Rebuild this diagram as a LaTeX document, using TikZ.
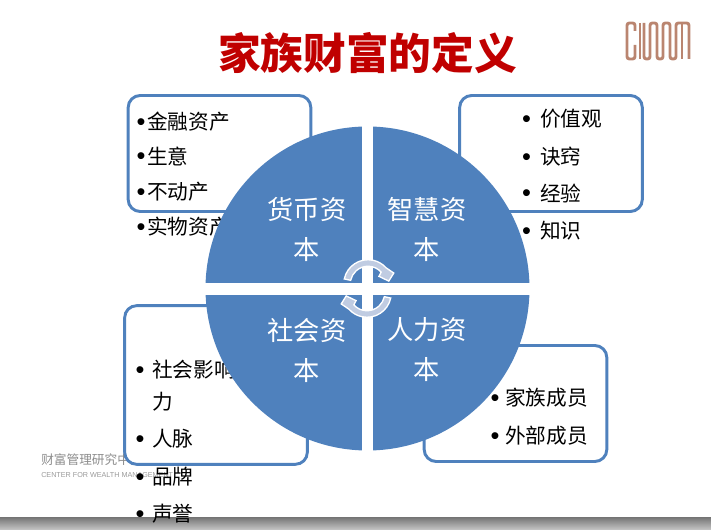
\documentclass[tikz,border=0pt]{standalone}
\usepackage{fontspec}
\setmainfont{Noto Sans CJK SC}
\newfontfamily\latinfont{Liberation Sans}
\usetikzlibrary{shadings}
\definecolor{wm_blue}{RGB}{79, 129, 189}
\definecolor{wm_red}{RGB}{192, 0, 0}
\definecolor{wm_brown}{RGB}{186, 133, 112}
\definecolor{wm_arrow}{RGB}{192, 204, 226}
\tikzstyle{box}=[rectangle,rounded corners=9pt,fill=white,draw=wm_blue,
  line width=2.2pt,minimum width=137pt,inner sep=0pt]
\tikzstyle{itm}=[anchor=west,inner sep=0pt,font=\fontsize{15.5}{18}\selectfont,
  label={[label distance=#1,inner sep=0pt,yshift=-2pt,font=\latinfont\fontsize{19}{18}\selectfont]left:•}]
\tikzstyle{cont}=[anchor=west,inner sep=0pt,font=\fontsize{15.5}{18}\selectfont]
\tikzstyle{quad}=[text=white,inner sep=0pt,font=\fontsize{19.7}{30}\selectfont,
  align=center]
\tikzstyle{swap}=[fill=wm_arrow,draw=white,line width=1pt,line join=miter]
\tikzstyle{logoline}=[wm_brown,line width=2.2pt,rounded corners=1.8pt]
\newcommand{\swappath}{(168:18.2pt) arc (168:42:18.2pt) -- (23:21pt) -- (8:15.75pt)
  -- (35:10pt) -- (42:13.3pt) arc (42:168:13.3pt) -- cycle}

\begin{document}
\begin{tikzpicture}[x=0.75pt,y=-0.75pt]
    \useasboundingbox (0,0) rectangle (711,530);
    % bar at the foot of the slide
    \shade[top color=black!52,bottom color=black!22] (0,518) rectangle (711,530);
    % logos
    \node [anchor=west,inner sep=0pt,text=black!45,font=\fontsize{9.5}{11}\selectfont] (cwmcn) at (41,460) {财富管理研究中心};
    \node [anchor=west,inner sep=0pt,text=black!40,font=\latinfont\fontsize{5.4}{6}\selectfont] (cwmen) at (41,475) {CENTER FOR WEALTH MANAGEMENT};
    \draw [logoline] (635,31) -- (635,23) -- (627,23) -- (627,59) -- (635,59) -- (635,45);
    \draw [logoline] (640,23) -- (640,59);
    \draw [logoline] (644,23) -- (644,59) -- (650,59) -- (650,23) -- (657,23) -- (657,59) -- (663,59)
      -- (663,23) -- (670,23) -- (670,59) -- (676,59) -- (676,23) -- (689,23) -- (689,59);
    \draw [logoline] (682,23) -- (682,59);
    % title
    \node [inner sep=0pt,text=wm_red,font=\fontsize{32}{38}\bfseries\selectfont] (title) at (367.5,53) {家族财富的定义};
    % boxes
    \node [box,minimum height=87pt] (money) at (219.5,153.5) {};
    \node [box,minimum height=87pt] (wisdom) at (551,153.5) {};
    \node [box,minimum height=119pt] (social) at (216,385) {};
    \node [box,minimum height=87pt] (human) at (515.5,403.5) {};
    % items
    \node [itm=1pt] (m1) at (147,122) {金融资产};
    \node [itm=1pt] (m2) at (147,156) {生意};
    \node [itm=1pt] (m3) at (147,192) {不动产};
    \node [itm=1pt] (m4) at (147,227) {实物资产};
    \node [itm=6.5pt] (w1) at (540,119) {价值观};
    \node [itm=6.5pt] (w2) at (540,157) {诀窍};
    \node [itm=6.5pt] (w3) at (540,193) {经验};
    \node [itm=6.5pt] (w4) at (540,231) {知识};
    \node [itm=5.5pt] (s1) at (152,370) {社会影响};
    \node [cont] (s1b) at (152,402) {力};
    \node [itm=5.5pt] (s2) at (152,439) {人脉};
    \node [itm=5.5pt] (s3) at (152,477) {品牌};
    \node [itm=5.5pt] (s4) at (152,514) {声誉};
    \node [itm=4pt] (h1) at (505,398) {家族成员};
    \node [itm=4pt] (h2) at (505,436) {外部成员};
    % the disc and its cross
    \fill [wm_blue] (367.5,288.5) circle [radius=121.5pt];
    \fill [white] (362,125) rectangle (373,452);
    \fill [white] (203,283) rectangle (532,295);
    \node [quad] (qmoney) at (307,229) {货币资\\本};
    \node [quad] (qwisdom) at (427,229) {智慧资\\本};
    \node [quad] (qsocial) at (307,350) {社会资\\本};
    \node [quad] (qhuman) at (427,350) {人力资\\本};
    % the two turning arrows
    \begin{scope}[shift={(368,284)}]
      \filldraw [swap] \swappath;
    \end{scope}
    \begin{scope}[shift={(367,293)},rotate=180]
      \filldraw [swap] \swappath;
    \end{scope}
  \end{tikzpicture}
\end{document}
